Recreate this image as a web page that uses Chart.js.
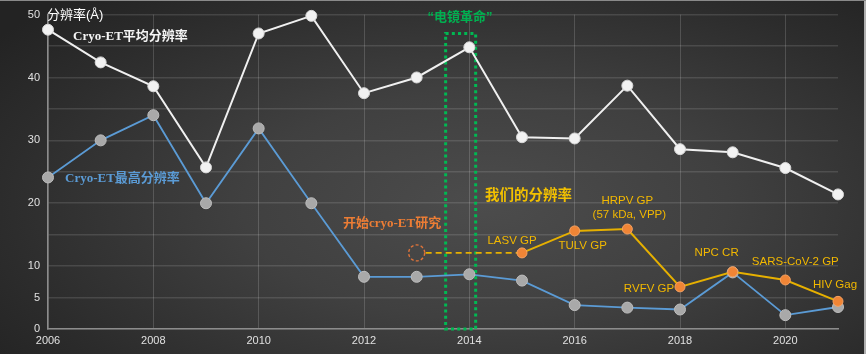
<!DOCTYPE html>
<html><head><meta charset="utf-8">
<script src="https://cdn.jsdelivr.net/npm/chart.js@4"></script>
<style>
html,body{margin:0;padding:0;background:#2a2a2a;}
#wrap{position:relative;width:866px;height:354px;
 background:radial-gradient(ellipse 70% 80% at 56% 58%, #4c4c4c 0%, #404040 40%, #2c2c2c 80%, #232323 100%);
 box-shadow: inset 0 1px 0 #8a8a8a, inset -2px 0 0 #b0b0b0;}
canvas{display:block}
</style></head><body><div id="wrap"><canvas id="c" width="866" height="354"></canvas></div>
<script>
const years = [2006,2007,2008,2009,2010,2011,2012,2013,2014,2015,2016,2017,2018,2019,2020,2021];
const avgRes = [47.6,42.4,38.6,25.7,47.0,49.8,37.5,40.0,44.8,30.5,30.3,38.7,28.6,28.1,25.6,21.4];
const bestRes = [24.1,30.0,34.0,20.0,31.9,20.0,8.3,8.3,8.7,7.7,3.8,3.4,3.1,9.0,2.2,3.5];
const ourYears = [2015,2016,2017,2018,2019,2020,2021];
const ourRes = [12.1,15.6,15.9,6.7,9.1,7.8,4.4];
const ourLabels = ['LASV GP','TULV GP','HRPV GP','RVFV GP','NPC CR','SARS-CoV-2 GP','HIV Gag'];
const yTickLabels = [0,5,10,20,30,40,50];
const xTickLabels = [2006,2008,2010,2012,2014,2016,2018,2020];
const startYear = 2013;          // 开始cryo-ET研究
const revolutionSpan = [2013.55, 2014.12]; // "电镜革命"
const revolutionTop = 47;

const pts = (xs, ys) => xs.map((x, i) => ({x, y: ys[i]}));

const annot = {
  id: 'annot',
  beforeDatasetsDraw(chart) {
    const {ctx, scales: {x, y}} = chart;
    ctx.save();
    ctx.strokeStyle = '#00b852';
    ctx.lineWidth = 3;
    ctx.setLineDash([3, 3.2]);
    const x0 = x.getPixelForValue(revolutionSpan[0]), x1 = x.getPixelForValue(revolutionSpan[1]);
    const y0 = y.getPixelForValue(revolutionTop), y1 = y.getPixelForValue(0);
    ctx.strokeRect(x0, y0, x1 - x0, y1 - y0);
    const cx = x.getPixelForValue(startYear), cy = y.getPixelForValue(ourRes[0]);
    ctx.lineWidth = 1.4;
    ctx.setLineDash([3, 2.2]);
    ctx.strokeStyle = '#e0743a';
    ctx.beginPath(); ctx.arc(cx, cy, 8, 0, Math.PI * 2); ctx.stroke();
    ctx.lineWidth = 1.8;
    ctx.setLineDash([6, 4]);
    ctx.strokeStyle = '#e6b000';
    ctx.beginPath(); ctx.moveTo(cx + 9, cy); ctx.lineTo(x.getPixelForValue(ourYears[0]), cy); ctx.stroke();
    ctx.restore();
  },
  afterDatasetsDraw(chart) {
    const {ctx, scales: {x, y}} = chart;
    ctx.save();
    ctx.textBaseline = 'middle';
    const txt = (s, px, py, font, color, align) => {
      ctx.font = font; ctx.fillStyle = color; ctx.textAlign = align || 'center';
      ctx.fillText(s, px, py);
    };
    const serifB = 'bold 13px "Liberation Serif", "Noto Sans CJK SC", serif';
    txt('分辨率(Å)', 47, 15, '13px "Liberation Sans", "Noto Sans CJK SC", sans-serif', '#ffffff', 'left');
    txt('Cryo-ET平均分辨率', 73, 37, serifB, '#f4f4f4', 'left');
    txt('Cryo-ET最高分辨率', 65, 179, serifB, '#5b9bd5', 'left');
    txt('开始cryo-ET研究', 343, 224, serifB, '#ec7d35', 'left');
    txt('\u201c电镜革命\u201d', 460, 17, 'bold 13px "Liberation Sans", "Noto Sans CJK SC", sans-serif', '#00b050');
    txt('我们的分辨率', 485, 194, 'bold 14.5px "Noto Sans CJK SC", sans-serif', '#f2c000', 'left');
    const offs = [[-10,-12],[8,15],[0,-28],[-31,2],[-16,-19],[10,-18],[-3,-17]];
    const lf = '11.5px "Liberation Sans", Arial, sans-serif';
    ourLabels.forEach((s, i) => {
      const px = x.getPixelForValue(ourYears[i]) + offs[i][0];
      const py = y.getPixelForValue(ourRes[i]) + offs[i][1];
      txt(s, px, py, lf, '#f2b800');
      if (s === 'HRPV GP') txt('(57 kDa, VPP)', px + 2, py + 14, lf, '#f2b800');
    });
    ctx.restore();
  }
};

new Chart(document.getElementById('c'), {
  type: 'line',
  data: {
    datasets: [
      { label: '我们的分辨率', data: pts(ourYears, ourRes), borderColor: '#e6b000', borderWidth: 2, clip: false,
        pointBackgroundColor: '#f08536', pointBorderColor: '#f5a263', pointBorderWidth: 1, pointRadius: 5, tension: 0 },
      { label: 'Cryo-ET平均分辨率', data: pts(years, avgRes), borderColor: '#f0f0f0', borderWidth: 2, clip: false,
        pointBackgroundColor: '#f2f2f2', pointBorderColor: '#d8d8d8', pointBorderWidth: 1, pointRadius: 5.5, tension: 0 },
      { label: 'Cryo-ET最高分辨率', data: pts(years, bestRes), borderColor: '#5b9bd5', borderWidth: 1.8, clip: false,
        pointBackgroundColor: '#a9a9a9', pointBorderColor: '#bdbdbd', pointBorderWidth: 1, pointRadius: 5.5, tension: 0 }
    ]
  },
  options: {
    responsive: false, animation: false, devicePixelRatio: 1,
    layout: { padding: { top: 14, right: 28, left: 0, bottom: 0 } },
    plugins: { legend: { display: false }, tooltip: { enabled: false } },
    scales: {
      x: {
        type: 'linear', min: 2006, max: 2021,
        ticks: { stepSize: 2, color: '#e0e0e0', padding: 5, font: { size: 11, family: '"Liberation Sans", Arial, sans-serif' },
                 callback: v => String(v), maxRotation: 0, autoSkip: false },
        afterBuildTicks: s => { s.ticks = xTickLabels.map(v => ({ value: v })); },
        afterFit: s => { s.height = 25; },
        grid: { color: 'rgba(255,255,255,0.16)', drawTicks: false, lineWidth: 1 },
        border: { color: '#8c8c8c', width: 1.5 }
      },
      y: {
        min: 0, max: 50,
        ticks: { stepSize: 5, color: '#e0e0e0', padding: 8, font: { size: 11, family: '"Liberation Sans", Arial, sans-serif' },
                 callback: v => yTickLabels.includes(v) ? String(v) : '', autoSkip: false },
        afterFit: s => { s.width = 48; },
        grid: { color: 'rgba(255,255,255,0.12)', drawTicks: false, lineWidth: 1.5 },
        border: { color: '#8c8c8c', width: 1.5 }
      }
    }
  },
  plugins: [annot]
});
</script>
</body></html>
